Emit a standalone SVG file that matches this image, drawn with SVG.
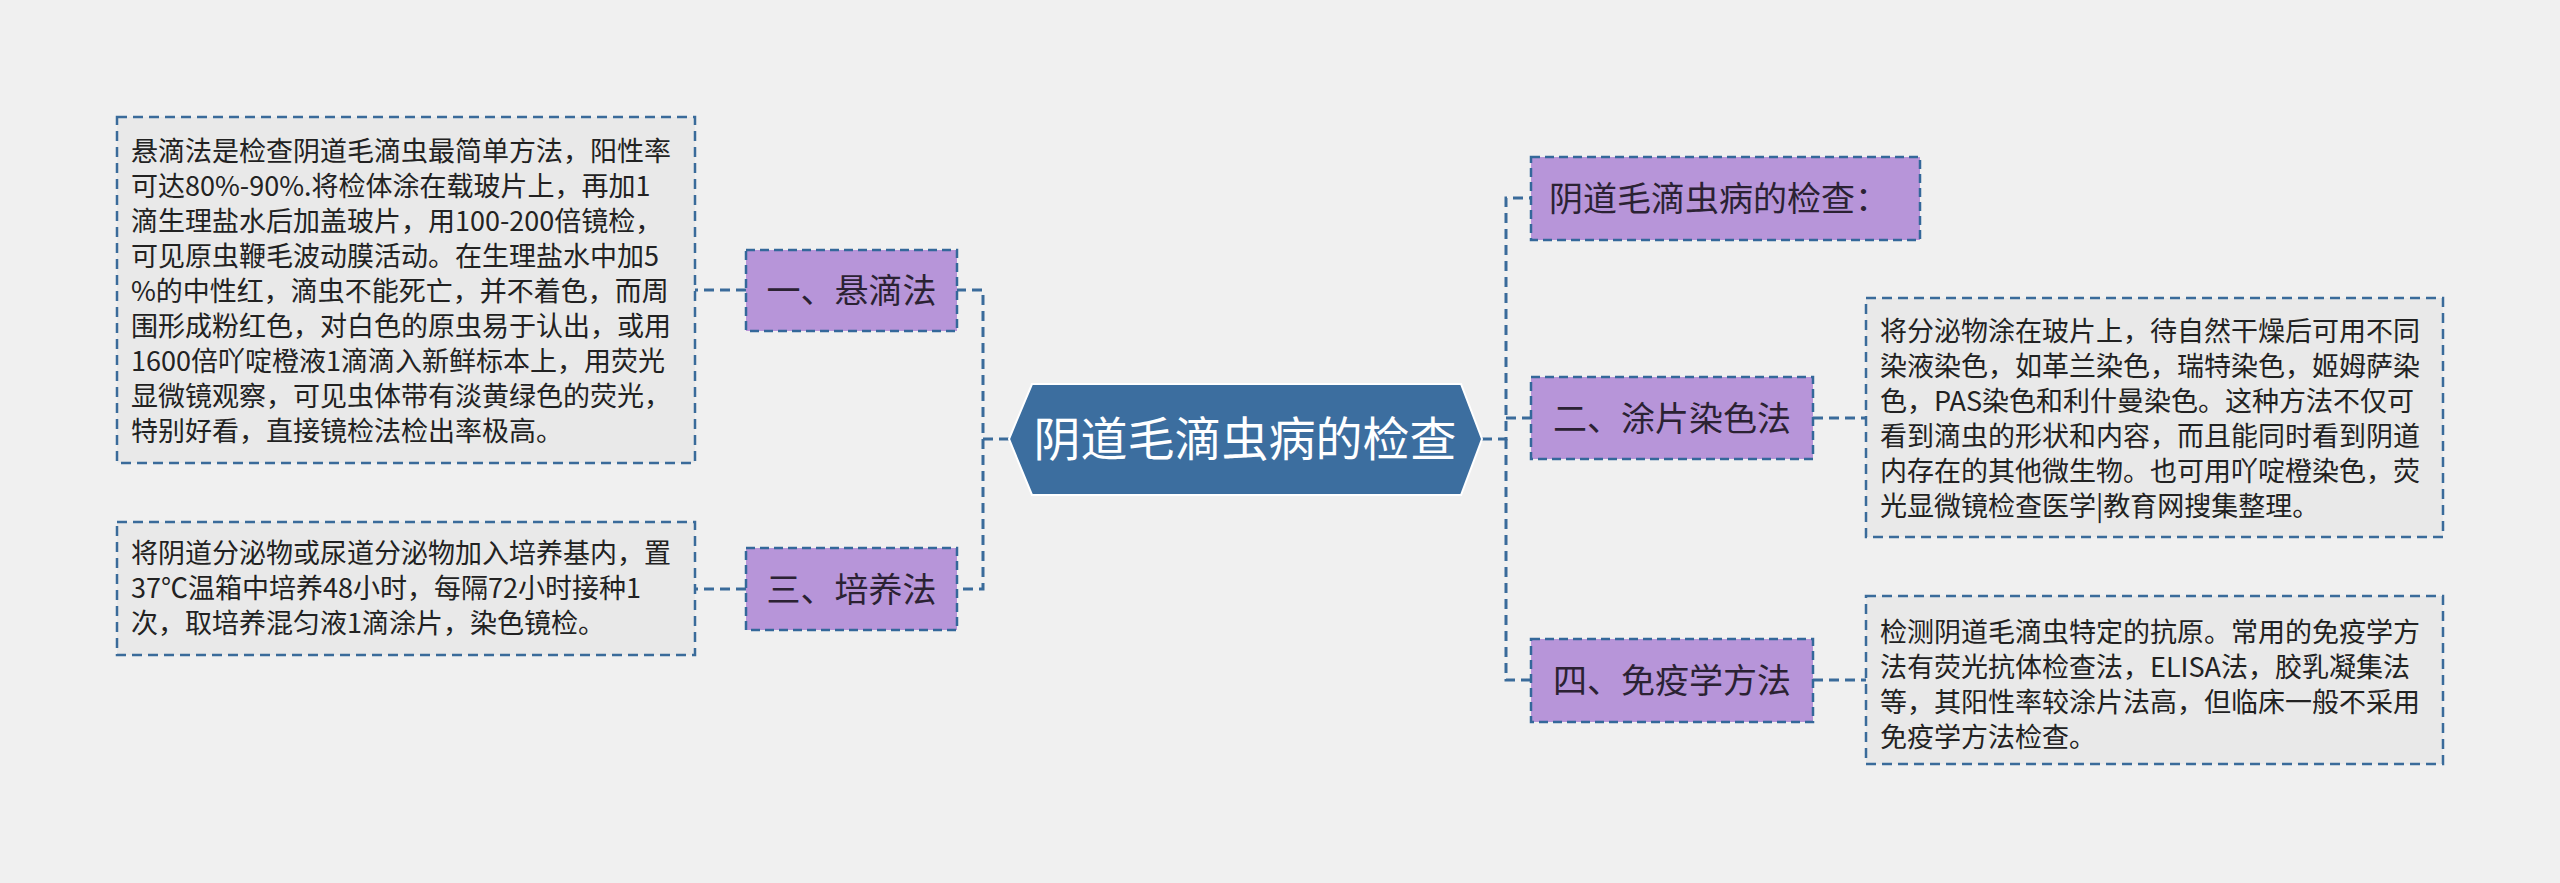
<svg xmlns="http://www.w3.org/2000/svg" width="2560" height="883" viewBox="0 0 2560 883">
<style>
.bg{fill:#f0f0f0}
.conn{fill:none;stroke:#3a6b9a;stroke-width:3;stroke-dasharray:10,6}
.topic{fill:#b795d9;stroke:#34689a;stroke-width:2.5;stroke-dasharray:9,5}
.note{fill:#e9e9e9;stroke:#3a6b9a;stroke-width:2.5;stroke-dasharray:10,6}
.tt{font-family:"Noto Sans CJK SC","Noto Sans",sans-serif;font-size:34px;fill:#2b2233}
.nt{font-family:"Noto Sans CJK SC","Noto Sans",sans-serif;font-size:27px;fill:#222}
.ct{font-family:"Noto Sans CJK SC","Noto Sans",sans-serif;font-size:47px;fill:#ffffff}
</style>
<rect class="bg" x="0" y="0" width="2560" height="883"/>
<g id="connectors">
<path class="conn" d="M1009,439 H983 V290 H957"/>
<path class="conn" d="M983,439 V589 H957"/>
<path class="conn" d="M746,290 H695"/>
<path class="conn" d="M746,589 H695"/>
<path class="conn" d="M1482,439 H1506 V198 H1531"/>
<path class="conn" d="M1506,439 V680 H1531"/>
<path class="conn" d="M1506,418 H1531"/>
<path class="conn" d="M1813,418 H1866"/>
<path class="conn" d="M1813,680 H1866"/>
</g>
<g id="center">
<polygon points="1009,439 1032,384 1461,384 1482,439 1461,495 1032,495" fill="#3c6e9f" stroke="#ffffff" stroke-width="2"/>
<text class="ct" x="1245" y="456" text-anchor="middle">阴道毛滴虫病的检查</text>
</g>
<g id="n1">
<rect class="topic" x="746" y="250" width="211" height="81"/>
<text class="tt" x="851.5" y="303" text-anchor="middle">一、悬滴法</text>
</g>
<g id="n1note">
<rect class="note" x="117" y="117" width="578" height="346"/>
<text class="nt" x="131">
<tspan x="131" y="161">悬滴法是检查阴道毛滴虫最简单方法，阳性率</tspan>
<tspan x="131" y="196">可达80%-90%.将检体涂在载玻片上，再加1</tspan>
<tspan x="131" y="231">滴生理盐水后加盖玻片，用100-200倍镜检，</tspan>
<tspan x="131" y="266">可见原虫鞭毛波动膜活动。在生理盐水中加5</tspan>
<tspan x="131" y="301">%的中性红，滴虫不能死亡，并不着色，而周</tspan>
<tspan x="131" y="336">围形成粉红色，对白色的原虫易于认出，或用</tspan>
<tspan x="131" y="371">1600倍吖啶橙液1滴滴入新鲜标本上，用荧光</tspan>
<tspan x="131" y="406">显微镜观察，可见虫体带有淡黄绿色的荧光，</tspan>
<tspan x="131" y="441">特别好看，直接镜检法检出率极高。</tspan>
</text>
</g>
<g id="n3">
<rect class="topic" x="746" y="548" width="211" height="82"/>
<text class="tt" x="851.5" y="602" text-anchor="middle">三、培养法</text>
</g>
<g id="n3note">
<rect class="note" x="117" y="522" width="578" height="133"/>
<text class="nt">
<tspan x="131" y="563">将阴道分泌物或尿道分泌物加入培养基内，置</tspan>
<tspan x="131" y="598">37℃温箱中培养48小时，每隔72小时接种1</tspan>
<tspan x="131" y="633">次，取培养混匀液1滴涂片，染色镜检。</tspan>
</text>
</g>
<g id="n0">
<rect class="topic" x="1531" y="157" width="389" height="83"/>
<text class="tt" x="1549" y="211">阴道毛滴虫病的检查：</text>
</g>
<g id="n2">
<rect class="topic" x="1531" y="377" width="282" height="82"/>
<text class="tt" x="1672" y="431" text-anchor="middle">二、涂片染色法</text>
</g>
<g id="n2note">
<rect class="note" x="1866" y="298" width="577" height="239"/>
<text class="nt">
<tspan x="1880" y="341">将分泌物涂在玻片上，待自然干燥后可用不同</tspan>
<tspan x="1880" y="376">染液染色，如革兰染色，瑞特染色，姬姆萨染</tspan>
<tspan x="1880" y="411">色，PAS染色和利什曼染色。这种方法不仅可</tspan>
<tspan x="1880" y="446">看到滴虫的形状和内容，而且能同时看到阴道</tspan>
<tspan x="1880" y="481">内存在的其他微生物。也可用吖啶橙染色，荧</tspan>
<tspan x="1880" y="516">光显微镜检查医学|教育网搜集整理。</tspan>
</text>
</g>
<g id="n4">
<rect class="topic" x="1531" y="639" width="282" height="83"/>
<text class="tt" x="1672" y="693" text-anchor="middle">四、免疫学方法</text>
</g>
<g id="n4note">
<rect class="note" x="1866" y="596" width="577" height="168"/>
<text class="nt">
<tspan x="1880" y="642">检测阴道毛滴虫特定的抗原。常用的免疫学方</tspan>
<tspan x="1880" y="677">法有荧光抗体检查法，ELISA法，胶乳凝集法</tspan>
<tspan x="1880" y="712">等，其阳性率较涂片法高，但临床一般不采用</tspan>
<tspan x="1880" y="747">免疫学方法检查。</tspan>
</text>
</g>
</svg>
